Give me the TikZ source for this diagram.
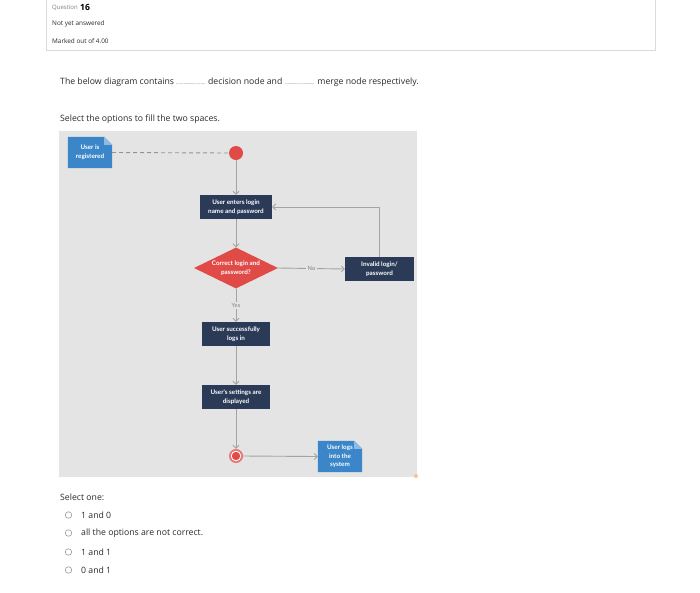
\documentclass[tikz,border=0pt]{standalone}
\usepackage{fontspec}
\setmainfont{Open Sans}
\newfontfamily\diagfont{Lato}
\usetikzlibrary{arrows.meta,shapes.geometric}
\definecolor{pagetext}{HTML}{2B2B2B}
\definecolor{cardline}{HTML}{DADADA}
\definecolor{diagbg}{HTML}{E4E4E4}
\definecolor{navy}{HTML}{2B3A57}
\definecolor{docblue}{HTML}{3A86C8}
\definecolor{docfold}{HTML}{8DBBE3}
\definecolor{redn}{HTML}{E04B47}
\definecolor{redl}{HTML}{E77470}
\definecolor{conn}{HTML}{A3A3A3}
\definecolor{radio}{HTML}{9A9A9A}
\definecolor{handle}{HTML}{F3C58A}
\pgfdeclarelayer{bgz}
\pgfdeclarelayer{bgy}
\pgfsetlayers{bgz,bgy,main}
\tikzset{
  ptext/.style={anchor=west,inner sep=0pt,text=pagetext,font=\fontsize{8.7}{10}\selectfont},
  small/.style={anchor=west,inner sep=0pt,text=pagetext,font=\fontsize{6.4}{8}\selectfont},
  dfont/.style={font=\diagfont\bfseries\fontsize{6.3}{8.6}\selectfont},
  action/.style={fill=navy,text=white,minimum width=68pt,minimum height=24pt,inner sep=0.5pt,align=center,dfont},
  docnode/.style={text=white,minimum width=44pt,minimum height=31pt,inner sep=0.5pt,align=center,dfont},
  decision/.style={diamond,fill=redn,text=white,minimum width=84pt,minimum height=41pt,inner sep=0pt,aspect=2.05,align=center,dfont},
  conline/.style={draw=conn,line width=0.9pt},
  arr/.style={conline,-{Straight Barb[length=3pt,width=6pt,line width=0.8pt]}},
  lbl/.style={fill=diagbg,text=conn!80!black,inner sep=1.5pt,font=\diagfont\fontsize{5.8}{6}\selectfont},
  radiob/.style={circle,draw=radio,line width=0.6pt,minimum size=6.5pt,inner sep=0pt}
}
\begin{document}
\begin{tikzpicture}[x=1pt,y=-1pt]
\useasboundingbox (0,0) rectangle (700,592);
\begin{pgfonlayer}{bgz}
\fill[white] (0,0) rectangle (700,592);
\fill[diagbg] (59,131) rectangle (417,477);
\end{pgfonlayer}
% header card
\draw[cardline,line width=0.7pt] (46,-3) rectangle (655,50);
\node[small,text=gray,font=\fontsize{6}{7}\selectfont] (qw) at (52,7.5) {Question};
\node[anchor=west,inner sep=0pt,text=black,font=\bfseries\fontsize{8.6}{9}\selectfont] (qn) at ([xshift=2pt]qw.east) {16};
\node[small] (nya) at (52,24) {Not yet answered};
\node[small] (mo) at (52,41) {Marked out of 4.00};
% question text
\node[ptext] (q1) at (60,82) {The below diagram contains {\fontsize{4}{5}\selectfont ...........................} decision node and {\fontsize{4}{5}\selectfont ............................} merge node respectively.};
\node[ptext] (q2) at (60,119) {Select the options to fill the two spaces.};
% nodes
\node[docnode] (reg) at (90,152.5) {User is\\registered};
\node[circle,fill=redn,minimum size=14pt,inner sep=0pt] (start) at (236,153) {};
\node[action,minimum width=72pt] (enter) at (236,207) {User enters login\\name and password};
\node[decision] (dec) at (236,268) {Correct login and\\password?};
\node[action,minimum width=69pt] (inv) at (379.5,269) {Invalid login/\\password};
\node[action] (succ) at (236,334) {User successfully\\logs in};
\node[action] (sett) at (236,397) {User's settings are\\displayed};
\node[circle,fill=redl,minimum size=14pt,inner sep=0pt] (endn) at (236,456) {};
\fill[white] (endn.center) circle (5.3pt);
\fill[redn] (endn.center) circle (4.2pt);
\node[docnode] (logs) at (340,456.5) {User logs\\into the\\system};
\fill[handle] (416,476) circle (2pt);
% document shapes
\begin{pgfonlayer}{bgy}
\foreach \d in {reg,logs}{
  \fill[docblue] (\d.south west) -- (\d.north west) -- ([xshift=-8pt]\d.north east) -- ([yshift=-8pt]\d.north east) -- (\d.south east) -- cycle;
  \fill[docfold] ([xshift=-8pt]\d.north east) -- ([yshift=-8pt]\d.north east) -- ([xshift=-8pt,yshift=-8pt]\d.north east) -- cycle;
}
\end{pgfonlayer}
% connectors
\draw[conline,dashed,dash pattern=on 4pt off 3pt,draw=conn!90!black] (reg.east) -- (start.west);
\draw[arr] (start.south) -- (enter.north);
\draw[arr] (enter.south) -- (dec.north);
\draw[arr] (dec.east) -- node[lbl] (no) {No} (inv.west);
\coordinate (corner) at (inv.north |- enter.east);
\draw[arr] (inv.north) -- (corner) -- (enter.east);
\draw[arr] (dec.south) -- node[lbl,pos=0.5] (yes) {Yes} (succ.north);
\draw[arr] (succ.south) -- (sett.north);
\draw[arr] (sett.south) -- (endn.north);
\draw[arr] (endn.east) -- (logs.west);
% answers
\node[ptext] (sel) at (60,497) {Select one:};
\foreach \y/\t/\n in {515/1 and 0/a,533/all the options are not correct./b,552/1 and 1/c,570/0 and 1/d}{
  \node[radiob] (r\n) at (68.5,\y) {};
  \node[ptext] (t\n) at (81,\y) {\t};
}
\end{tikzpicture}
\end{document}
